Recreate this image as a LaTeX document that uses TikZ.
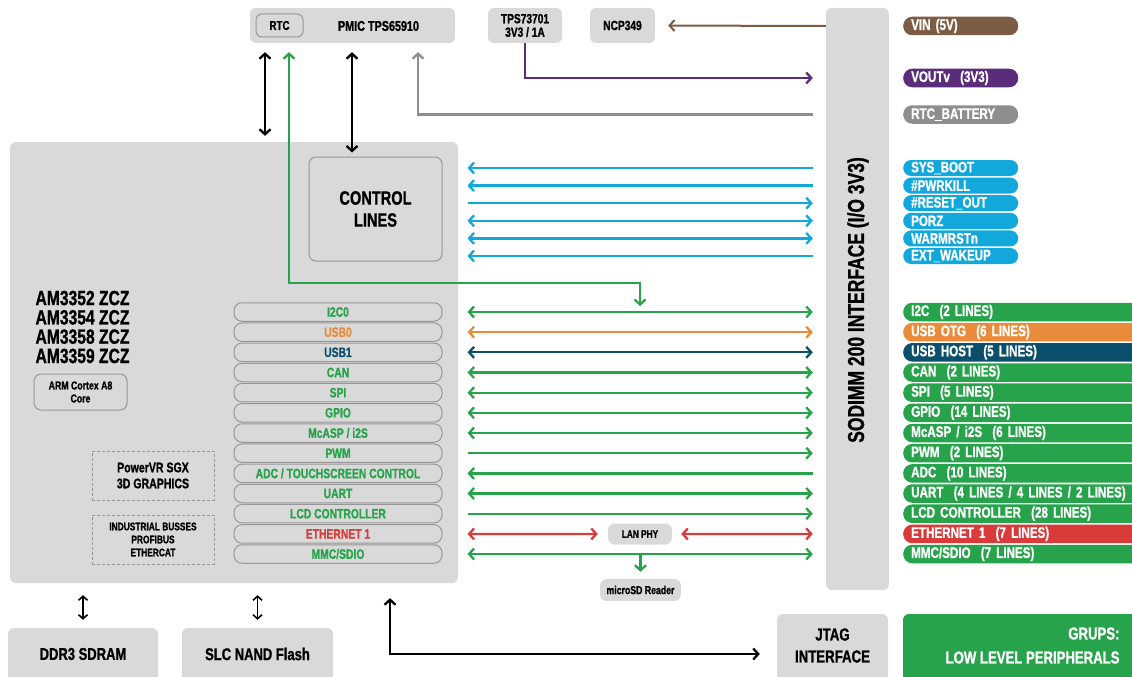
\documentclass[tikz,border=0pt]{standalone}
\usepackage{fontspec}
\setmainfont{Liberation Sans}[FakeStretch=0.76,BoldFeatures={FakeBold=1}]
\usetikzlibrary{arrows.meta}
\definecolor{lgray}{HTML}{D9D9D9}
\definecolor{bgray}{HTML}{979797}
\definecolor{grn}{HTML}{27A34B}
\definecolor{orng}{HTML}{E98B3A}
\definecolor{dblue}{HTML}{0B4F6C}
\definecolor{redc}{HTML}{D93A3A}
\definecolor{cyanc}{HTML}{13A8DC}
\definecolor{brownc}{HTML}{7D5C45}
\definecolor{purp}{HTML}{5B2C7A}
\definecolor{lgline}{HTML}{8E8E8E}
\newcommand\fsz[2]{\fontsize{#1}{#2}\selectfont\bfseries}
\tikzset{
  >={Straight Barb[length=5pt,width=11pt]},
  gbox/.style={fill=lgray,rounded corners=6pt,inner sep=0pt},
  ibox/.style={draw=bgray,line width=1pt,fill=lgray,rounded corners=7pt,inner sep=0pt},
  dbox/.style={draw=bgray,densely dashed,line width=0.8pt,inner sep=0pt},
  pbox/.style={ibox,rounded corners=8pt,minimum width=208pt,minimum height=18.5pt,font=\fsz{13.6}{13}},
  rpill/.style={rounded corners=9pt,inner sep=0pt,anchor=west,text=white,align=left,
     minimum height=18.5pt,text width=232pt,inner xsep=8pt,font=\fsz{15.3}{15}},
  cpill/.style={rounded corners=8pt,fill=cyanc,inner sep=0pt,anchor=west,text=white,align=left,
     minimum height=16pt,text width=99pt,inner xsep=8pt,font=\fsz{15.2}{15}},
  spill/.style={rounded corners=9pt,inner sep=0pt,anchor=west,text=white,align=left,
     minimum height=18.5pt,text width=99pt,inner xsep=8pt,font=\fsz{15.3}{15}},
  sig/.style={line width=2.3pt,shorten <=25pt,shorten >=13pt},
  blk/.style={line width=2.3pt,black},
}
\begin{document}
\begin{tikzpicture}[x=1pt,y=-1pt]
\useasboundingbox (0,0) rectangle (1132,677);
\fill[white] (0,0) rectangle (1132,677);

% ---------- top row
\node[gbox,minimum width=205pt,minimum height=35pt] (pmic) at (352.5,25.5) {};
\node[ibox,rounded corners=6pt,minimum width=47pt,minimum height=23pt,font=\fsz{12.9}{13}] (rtc) at (279.5,25.5) {RTC};
\node[font=\fsz{14.2}{14}] (pmict) at (378.5,26) {PMIC TPS65910};
\node[gbox,minimum width=74pt,minimum height=35pt,align=center,font=\fsz{13.4}{13.5}] (tps) at (525,25.5) {TPS73701\\3V3 / 1A};
\node[gbox,minimum width=65pt,minimum height=35pt,font=\fsz{13.4}{13}] (ncp) at (622.5,25.5) {NCP349};

% ---------- SODIMM bar
\node[gbox,minimum width=63pt,minimum height=582pt] (sod) at (857.5,299) {};
\node[rotate=90,font=\fsz{23}{23}] (sodt) at (858,300) {SODIMM 200 INTERFACE (I/O 3V3)};

% ---------- processor
\node[gbox,minimum width=448pt,minimum height=441pt] (proc) at (234,362.5) {};
\node[ibox,minimum width=133pt,minimum height=104pt,align=center,font=\fsz{19.2}{22}] (cl) at (375.5,209) {CONTROL\\LINES};
\node[anchor=west,align=left,font=\fsz{20.6}{19.3}] (am) at (32,327) {AM3352 ZCZ\\AM3354 ZCZ\\AM3358 ZCZ\\AM3359 ZCZ};
\node[ibox,minimum width=93pt,minimum height=36pt,align=center,font=\fsz{11.5}{13}] (arm) at (80.5,392) {ARM Cortex A8\\Core};
\node[dbox,minimum width=122pt,minimum height=49pt,align=center,font=\fsz{13.9}{16}] (pvr) at (153,475.5) {PowerVR SGX\\3D GRAPHICS};
\node[dbox,minimum width=122pt,minimum height=49pt,align=center,font=\fsz{11}{13}] (ind) at (153,539.5) {INDUSTRIAL BUSSES\\PROFIBUS\\ETHERCAT};

% peripheral boxes
\node[pbox,text=grn]   (p1)  at (338,312)   {I2C0};
\node[pbox,text=orng]  (p2)  at (338,332.2) {USB0};
\node[pbox,text=dblue] (p3)  at (338,352.3) {USB1};
\node[pbox,text=grn]   (p4)  at (338,372.5) {CAN};
\node[pbox,text=grn]   (p5)  at (338,392.7) {SPI};
\node[pbox,text=grn]   (p6)  at (338,412.8) {GPIO};
\node[pbox,text=grn]   (p7)  at (338,433)   {McASP / i2S};
\node[pbox,text=grn]   (p8)  at (338,453.2) {PWM};
\node[pbox,text=grn]   (p9)  at (338,473.4) {ADC / TOUCHSCREEN CONTROL};
\node[pbox,text=grn]   (p10) at (338,493.5) {UART};
\node[pbox,text=grn]   (p11) at (338,513.7) {LCD CONTROLLER};
\node[pbox,text=redc]  (p12) at (338,533.9) {ETHERNET 1};
\node[pbox,text=grn]   (p13) at (338,554)   {MMC/SDIO};

% ---------- right labels
\node[spill,fill=brownc] (vin) at (903,26) {VIN (5V)};
\node[spill,fill=purp] (vout) at (903,78) {VOUTv\ \ (3V3)};
\node[spill,fill=lgline] (rtcb) at (903,114.5) {RTC\_BATTERY};
\node[cpill] (c1) at (903,168)   {SYS\_BOOT};
\node[cpill] (c2) at (903,185.6) {\#PWRKILL};
\node[cpill] (c3) at (903,203.2) {\#RESET\_OUT};
\node[cpill] (c4) at (903,220.8) {PORZ};
\node[cpill] (c5) at (903,238.4) {WARMRSTn};
\node[cpill] (c6) at (903,256)   {EXT\_WAKEUP};

\begin{scope}
\clip (0,0) rectangle (1132,677);
\node[rpill,fill=grn]   (r1)  at (903,312)   {I2C\ \ (2 LINES)};
\node[rpill,fill=orng]  (r2)  at (903,332.2) {USB OTG\ \ (6 LINES)};
\node[rpill,fill=dblue] (r3)  at (903,352.3) {USB HOST\ \ (5 LINES)};
\node[rpill,fill=grn]   (r4)  at (903,372.5) {CAN\ \ (2 LINES)};
\node[rpill,fill=grn]   (r5)  at (903,392.7) {SPI\ \ (5 LINES)};
\node[rpill,fill=grn]   (r6)  at (903,412.8) {GPIO\ \ (14 LINES)};
\node[rpill,fill=grn]   (r7)  at (903,433)   {McASP / i2S\ \ (6 LINES)};
\node[rpill,fill=grn]   (r8)  at (903,453.2) {PWM\ \ (2 LINES)};
\node[rpill,fill=grn]   (r9)  at (903,473.4) {ADC\ \ (10 LINES)};
\node[rpill,fill=grn]   (r10) at (903,493.5) {UART\ \ (4 LINES / 4 LINES / 2 LINES)};
\node[rpill,fill=grn]   (r11) at (903,513.7) {LCD CONTROLLER\ \ (28 LINES)};
\node[rpill,fill=redc]  (r12) at (903,533.9) {ETHERNET 1\ \ (7 LINES)};
\node[rpill,fill=grn]   (r13) at (903,554)   {MMC/SDIO\ \ (7 LINES)};
% bottom boxes
\node[gbox,minimum width=150pt,minimum height=60pt] (ddr) at (83,658) {};
\node[font=\fsz{17.1}{17}] (ddrt) at (83,654) {DDR3 SDRAM};
\node[gbox,minimum width=151pt,minimum height=60pt] (nand) at (257.5,658) {};
\node[font=\fsz{17.1}{17}] (nandt) at (257.5,654) {SLC NAND Flash};
\node[gbox,minimum width=111pt,minimum height=74pt] (jtag) at (832.5,651) {};
\node[align=center,font=\fsz{17.4}{22}] (jtagt) at (832.5,645.5) {JTAG\\INTERFACE};
\node[gbox,fill=grn,minimum width=240pt,minimum height=74pt] (grp) at (1023,651) {};
\node[anchor=east,align=right,text=white,font=\fsz{17.3}{24}] (grpt) at (1123,645.5) {GRUPS:\\LOW LEVEL PERIPHERALS};
\end{scope}

% LAN PHY / microSD
\node[gbox,rounded corners=7pt,minimum width=64pt,minimum height=21pt,font=\fsz{10.9}{11}] (lan) at (640,534) {LAN PHY};
\node[gbox,rounded corners=7pt,minimum width=81pt,minimum height=22pt,font=\fsz{11.5}{11}] (msd) at (640.5,590) {microSD Reader};

% ---------- connectors
% power
\draw[line width=2pt,brownc,->,shorten >=13pt] (vin -| sod.west) -- (ncp.east);
\draw[line width=2.3pt,purp,->,shorten >=13pt] (tps.south) |- (vout -| sod.west);
\draw[line width=2.3pt,lgline,->,shorten <=13pt,shorten >=9pt] (rtcb -| sod.west) -| (pmic.south -| 418,0);
\draw[blk,<->,shorten <=9pt,shorten >=6pt] (pmic.south -| 265,0) -- (proc.north -| 265,0);
\draw[blk,<->,shorten <=9pt,shorten >=4pt] (pmic.south -| 352,0) -- (cl.north -| 352,0);
\coordinate (gturn) at (640,283);
\coordinate (gend) at (640,306);
\draw[line width=2.3pt,grn,<->,shorten <=9pt] (pmic.south -| 289,0) |- (gturn) -- (gend);

% control lines
\draw[sig,cyanc,<-] (c1 -| cl.east) -- (c1 -| sod.west);
\draw[sig,cyanc,<-] (c2 -| cl.east) -- (c2 -| sod.west);
\draw[sig,cyanc,->] (c3 -| cl.east) -- (c3 -| sod.west);
\draw[sig,cyanc,<->] (c4 -| cl.east) -- (c4 -| sod.west);
\draw[sig,cyanc,<->] (c5 -| cl.east) -- (c5 -| sod.west);
\draw[sig,cyanc,<-] (c6 -| cl.east) -- (c6 -| sod.west);

% peripherals
\draw[sig,grn,<->]   (p1.east) -- (p1 -| sod.west);
\draw[sig,orng,<->]  (p2.east) -- (p2 -| sod.west);
\draw[sig,dblue,<->] (p3.east) -- (p3 -| sod.west);
\draw[sig,grn,<->]   (p4.east) -- (p4 -| sod.west);
\draw[sig,grn,<->]   (p5.east) -- (p5 -| sod.west);
\draw[sig,grn,<->]   (p6.east) -- (p6 -| sod.west);
\draw[sig,grn,<->]   (p7.east) -- (p7 -| sod.west);
\draw[sig,grn,->]    (p8.east) -- (p8 -| sod.west);
\draw[sig,grn,<-]    (p9.east) -- (p9 -| sod.west);
\draw[sig,grn,<->]   (p10.east) -- (p10 -| sod.west);
\draw[sig,grn,->]    (p11.east) -- (p11 -| sod.west);
\draw[sig,redc,<->,shorten >=10pt] (p12.east) -- (lan.west);
\draw[sig,redc,<->,shorten <=9pt] (lan.east) -- (p12 -| sod.west);
\draw[sig,grn,<->]   (p13.east) -- (p13 -| sod.west);
\draw[line width=2.3pt,grn,->,shorten >=7pt] (p13 -| msd.north) -- (msd.north);

% bottom
\draw[line width=1.6pt,<->,>={Straight Barb[length=4pt,width=9pt]},shorten <=12pt,shorten >=8pt] (proc.south -| ddr.north) -- (ddr.north);
\draw[line width=1.6pt,<->,>={Straight Barb[length=4pt,width=9pt]},shorten <=12pt,shorten >=8pt] (proc.south -| nand.north) -- (nand.north);
\coordinate (jturn) at (390,654);
\draw[blk,<->,shorten <=15pt,shorten >=17pt] (proc.south -| jturn) -- (jturn) -- (jturn -| jtag.west);
\end{tikzpicture}
\end{document}
